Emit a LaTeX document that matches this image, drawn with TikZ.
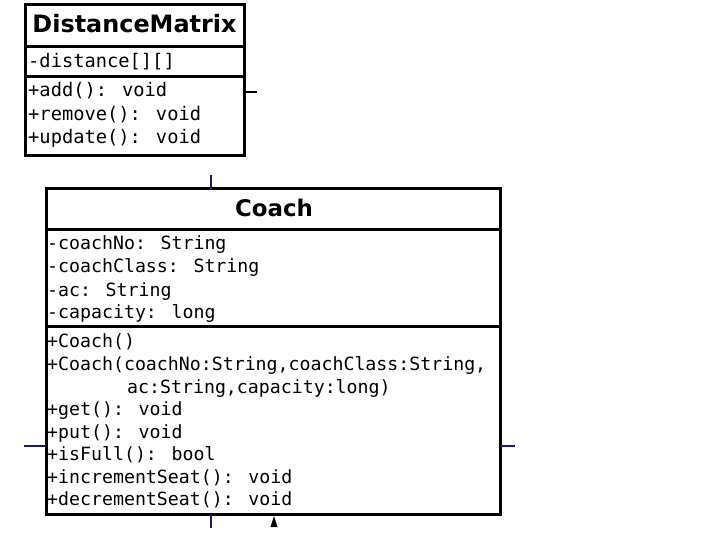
\documentclass[tikz,border=0pt]{standalone}
\usepackage{fontspec}
\setmainfont{DejaVu Sans}
\newfontfamily\monof{DejaVu Sans Mono}
\definecolor{navy}{RGB}{25,25,112}
\tikzset{
  umlbox/.style={draw=black, line width=3bp, inner sep=0pt, outer sep=0pt, fill=none},
  divider/.style={draw=black, line width=3bp},
  ttl/.style={font=\bfseries\fontsize{23}{26}\selectfont, anchor=base, inner sep=0pt},
  ttldm/.style={font=\bfseries\fontsize{24}{27}\selectfont, anchor=base, inner sep=0pt},
  mem/.style={font=\monof\fontsize{18.3}{22}\selectfont, anchor=base west, inner sep=0pt},
  memdm/.style={font=\monof\fontsize{18.8}{22}\selectfont, anchor=base west, inner sep=0pt},
  stubline/.style={draw=navy, line width=1.6bp},
  stubblack/.style={draw=black, line width=2.5bp},
}
\begin{document}
\begin{tikzpicture}[x=1bp,y=-1bp]
\useasboundingbox (0,0) rectangle (720,540);
% DistanceMatrix
\node[umlbox, anchor=north west, minimum width=219bp, minimum height=150bp] (dm) at (25,5) {};
\draw[divider] (25,47) -- (244,47);
\draw[divider] (25,77) -- (244,77);
\node[ttldm] (dmt) at (134.5,33) {DistanceMatrix};
\node[memdm] (dma) at (28,68) {-distance[][]};
\node[memdm] (dmm1) at (28,97) {+add(): void};
\node[memdm] (dmm2) at (28,121) {+remove(): void};
\node[memdm] (dmm3) at (28,144) {+update(): void};
% Coach
\node[umlbox, anchor=north west, minimum width=454bp, minimum height=325bp] (co) at (46,189) {};
\draw[divider] (46,230) -- (500,230);
\draw[divider] (46,326) -- (500,326);
\node[ttl] (cot) at (274,217) {Coach};
\node[mem] (ca1) at (47,250) {-coachNo: String};
\node[mem] (ca2) at (47,273) {-coachClass: String};
\node[mem] (ca3) at (47,296) {-ac: String};
\node[mem] (ca4) at (47,318) {-capacity: long};
\node[mem] (cm1) at (47,347) {+Coach()};
\node[mem] (cm2) at (47,370) {+Coach(coachNo:String,coachClass:String,};
\node[mem] (cm2b) at (127,393) {ac:String,capacity:long)};
\node[mem] (cm3) at (47,415) {+get(): void};
\node[mem] (cm4) at (47,438) {+put(): void};
\node[mem] (cm5) at (47,460) {+isFull(): bool};
\node[mem] (cm6) at (47,483) {+incrementSeat(): void};
\node[mem] (cm7) at (47,505) {+decrementSeat(): void};
% connector stubs
\coordinate (s1) at (257,92);
\draw[stubblack] (244,92) -- (s1);
\coordinate (s2) at (211,175);
\draw[stubline, line width=1.2bp] (211,189) -- (s2);
\coordinate (s3) at (211,528);
\draw[stubline, line width=1.2bp] (211,514) -- (s3);
\coordinate (s4) at (24,446);
\draw[stubline] (46,446) -- (s4);
\coordinate (s5) at (515,446);
\draw[stubline] (500,446) -- (s5);
\fill[black] (274,516) -- (277.5,527) -- (270.5,527) -- cycle;
\end{tikzpicture}
\end{document}
